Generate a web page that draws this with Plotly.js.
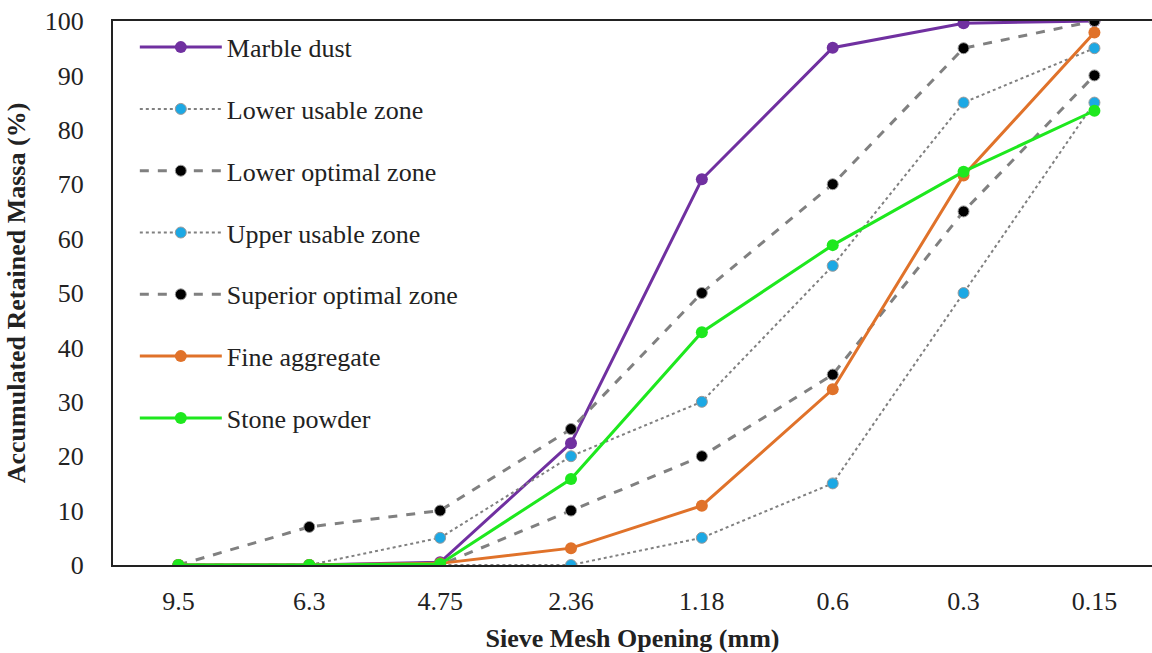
<!DOCTYPE html>
<html>
<head>
<meta charset="utf-8">
<script src="https://cdn.plot.ly/plotly-3.0.1.min.js"></script>
<style>
html,body{margin:0;padding:0;overflow:hidden;background:#fff;font-family:'Liberation Serif','Times New Roman',serif;}
#chart{width:1152px;height:653px;}
#chart svg text, #chart svg tspan{font-family:'Liberation Serif','Times New Roman',serif !important;}
</style>
</head>
<body>
<div id="chart"></div>
<script>
const sieves = ["9.5", "6.3", "4.75", "2.36", "1.18", "0.6", "0.3", "0.15"];
const marbleDust = [0, 0, 0.5, 22.4, 70.9, 95.1, 99.6, 100];
const lowerUsable = [0, 0, 0, 0, 5, 15, 50, 85];
const lowerOptimal = [0, 0, 0, 10, 20, 35, 65, 90];
const upperUsable = [0, 0, 5, 20, 30, 55, 85, 95];
const superiorOptimal = [0, 7, 10, 25, 50, 70, 95, 100];
const fineAggregate = [0, 0, 0.3, 3.1, 10.9, 32.3, 71.6, 97.9];
const stonePowder = [0, 0, 0.2, 15.8, 42.8, 58.8, 72.3, 83.5];

const SERIF = 'Liberation Serif';

function zone(name, y, dash, mcolor, g) {
  return {
    x: sieves, y: y, name: name, type: "scatter", mode: "lines+markers",
    legendgroup: g,
    line: {color: "#808080", width: dash === "dash" ? 3 : 2, dash: dash},
    marker: {color: mcolor, size: 11, line: {color: "#9a9a9a", width: 1}}
  };
}
function solid(name, y, color, g) {
  return {
    x: sieves, y: y, name: name, type: "scatter", mode: "lines+markers",
    legendgroup: g,
    line: {color: color, width: 3},
    marker: {color: color, size: 12}
  };
}

const traces = [
  solid("Marble dust", marbleDust, "#7030A0", "g1"),
  zone("Lower usable zone", lowerUsable, "dot", "#1CA8E4", "g2"),
  zone("Lower optimal zone", lowerOptimal, "dash", "#000000", "g3"),
  zone("Upper usable zone", upperUsable, "dot", "#1CA8E4", "g4"),
  zone("Superior optimal zone", superiorOptimal, "dash", "#000000", "g5"),
  solid("Fine aggregate", fineAggregate, "#E0722A", "g6"),
  solid("Stone powder", stonePowder, "#1EE81E", "g7")
];

const layout = {
  width: 1152, height: 653,
  margin: {l: 112.5, r: 0, t: 21, b: 88},
  paper_bgcolor: "#fff", plot_bgcolor: "#fff",
  font: {family: SERIF, size: 26, color: "#222"},
  showlegend: true,
  legend: {
    x: 0.021, y: 0.995, xanchor: "left", yanchor: "top",
    bgcolor: "rgba(0,0,0,0)", traceorder: "grouped", tracegroupgap: 25,
    itemwidth: 82, font: {family: SERIF, size: 26, color: "#222"}
  },
  xaxis: {
    type: "category", range: [-0.5, 7.44],
    showline: true, linecolor: "#222", linewidth: 2, mirror: true,
    showgrid: false, zeroline: false, ticks: "",
    ticklabelstandoff: 12,
    tickfont: {family: SERIF, size: 26, color: "#222"},
    title: {text: "<b>Sieve Mesh Opening (mm)</b>", font: {family: SERIF, size: 26, color: "#222"}, standoff: 14}
  },
  yaxis: {
    range: [0, 100], dtick: 10,
    showline: true, linecolor: "#222", linewidth: 2,
    showgrid: false, zeroline: false, ticks: "",
    ticklabelstandoff: 22,
    tickfont: {family: SERIF, size: 26, color: "#222"},
    title: {text: "<b>Accumulated Retained Massa (%)</b>", font: {family: SERIF, size: 26, color: "#222"}, standoff: 12}
  }
};

function draw() {
  Plotly.newPlot("chart", traces, layout, {displayModeBar: false, staticPlot: true});
}
if (document.fonts && document.fonts.load) {
  Promise.all([
    document.fonts.load("26px 'Liberation Serif'"),
    document.fonts.load("bold 26px 'Liberation Serif'")
  ]).then(draw, draw);
} else {
  draw();
}
</script>
</body>
</html>
